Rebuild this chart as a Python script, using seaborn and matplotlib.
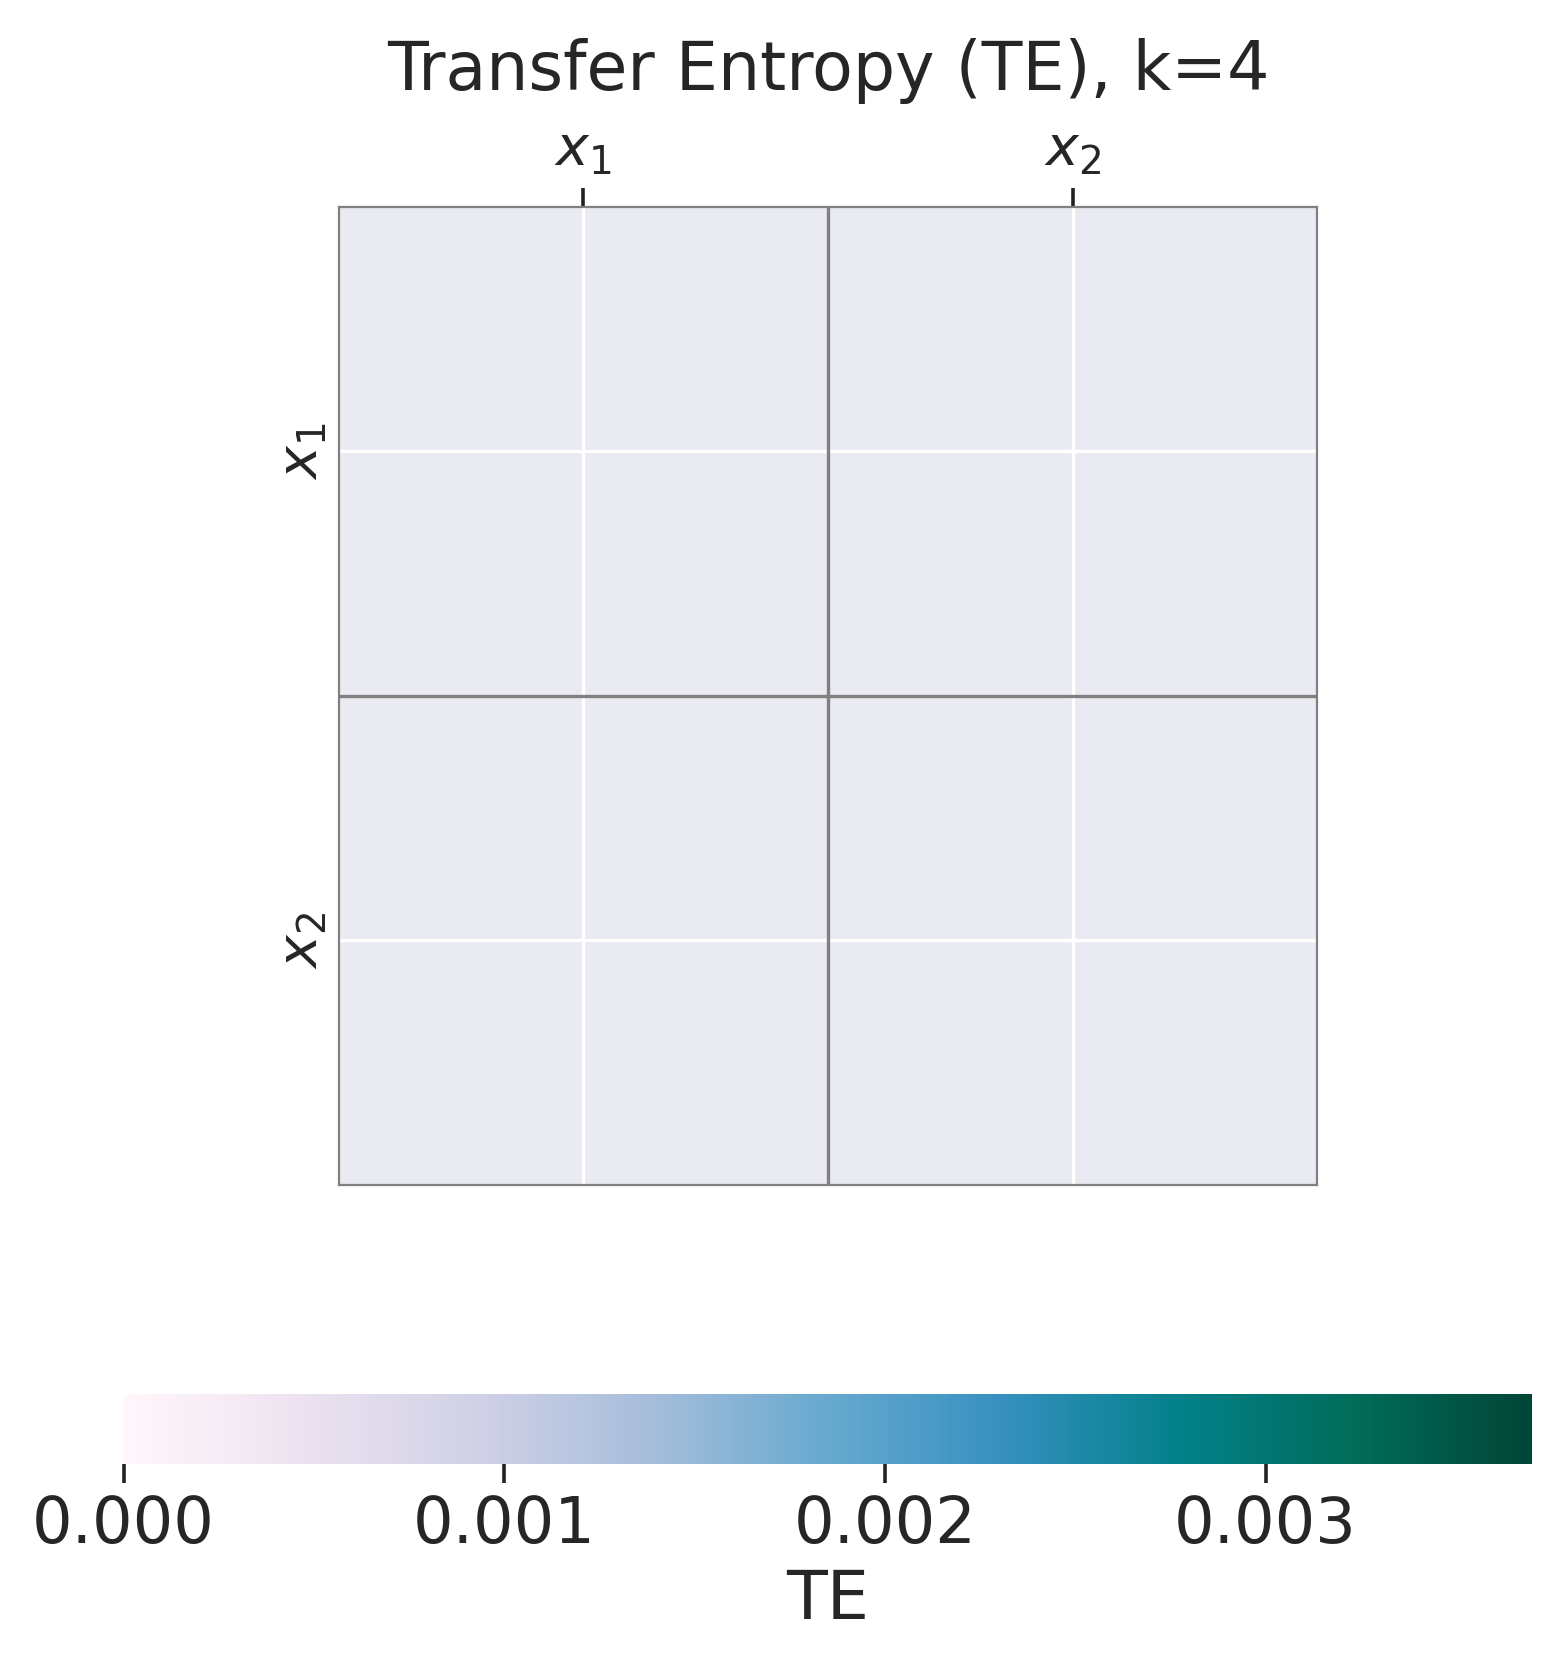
import numpy as np
import pandas as pd
import matplotlib
matplotlib.use("Agg")
import matplotlib.pyplot as plt
import seaborn as sns

sns.set_theme(style="darkgrid")

labels = ["$x_1$", "$x_2$"]
# every cell is empty (NaN) in the reference
te_values = [[np.nan, np.nan], [np.nan, np.nan]]
vmin, vmax = 0.0, 0.0037
cbar_ticks = [0.0, 0.001, 0.002, 0.003]

df = pd.DataFrame(te_values, index=labels, columns=labels)

fig = plt.figure(figsize=(7.73, 8.33), dpi=200)
ax = fig.add_axes([0.219, 0.289, 0.633, 0.587])
cax = fig.add_axes([0.080, 0.121, 0.911, 0.042])

sns.heatmap(df, ax=ax, cmap="PuBuGn", vmin=vmin, vmax=vmax, square=False,
            cbar_ax=cax, cbar_kws={"orientation": "horizontal", "ticks": cbar_ticks})

ax.set_axisbelow(True)
ax.grid(True, color="white", linewidth=1.2)
ax.axhline(1, color="gray", linewidth=1.2)
ax.axvline(1, color="gray", linewidth=1.2)
for s in ax.spines.values():
    s.set_visible(True)
    s.set_edgecolor("gray")
    s.set_linewidth(0.8)

ax.xaxis.tick_top()
ax.tick_params(axis="x", length=7, width=1.3, color="#222222", labelsize=20, rotation=0, bottom=False, top=True)
ax.tick_params(axis="y", length=0, labelsize=20)
ax.set_yticklabels(labels, rotation=90, va="center")
ax.set_title("Transfer Entropy (TE), k=4", fontsize=24, pad=42)

cax.tick_params(length=7, width=1.3, color="#222222", labelsize=23, bottom=True)
cax.set_xticklabels(["0.000", "0.001", "0.002", "0.003"])
cax.set_xlabel("TE", fontsize=24)

fig.savefig("out.png", dpi=200)
